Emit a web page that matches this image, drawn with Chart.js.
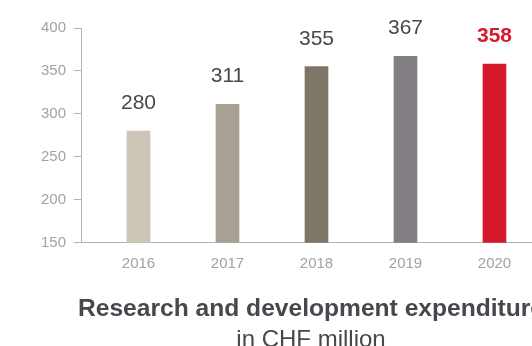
<!DOCTYPE html>
<html>
<head>
<meta charset="utf-8">
<script src="https://cdn.jsdelivr.net/npm/chart.js@4"></script>
<style>
  html, body { margin: 0; padding: 0; background: #fff; overflow: hidden; }
  #wrap { width: 532px; height: 346px; overflow: hidden; }
</style>
</head>
<body>
<div id="wrap"><canvas id="rdChart" width="622" height="360"></canvas></div>
<script>
const YEARS = [2016, 2017, 2018, 2019, 2020];
const VALUES = [280, 311, 355, 367, 358];
const BAR_COLORS = ['#cdc5b5', '#a9a094', '#7f7566', '#837e83', '#d7192d'];
const Y_TICKS = [150, 200, 250, 300, 350, 400];
const TITLE = 'Research and development expenditure';
const SUBTITLE = 'in CHF million';

const FONT = '"Liberation Sans", Arial, Helvetica, sans-serif';
const AXIS_GREY = '#b4b4b4';
const TICK_GREY = '#a2a2a2';
const TEXT_DARK = '#48474e';

// value on top of each bar, last one bold red
const valueLabels = {
  id: 'valueLabels',
  afterDatasetsDraw(chart) {
    const ctx = chart.ctx;
    const meta = chart.getDatasetMeta(0);
    ctx.save();
    ctx.textAlign = 'center';
    ctx.textBaseline = 'alphabetic';
    meta.data.forEach((bar, i) => {
      const last = i === VALUES.length - 1;
      ctx.font = (last ? 'bold ' : '') + '21px ' + FONT;
      ctx.fillStyle = last ? '#d7192d' : TEXT_DARK;
      ctx.fillText(String(VALUES[i]), bar.x, bar.y - 22);
    });
    ctx.restore();
  }
};

new Chart(document.getElementById('rdChart'), {
  type: 'bar',
  data: {
    datasets: [{
      data: YEARS.map((yr, i) => ({ x: yr, y: VALUES[i] })),
      backgroundColor: BAR_COLORS,
      barThickness: 23
    }]
  },
  options: {
    responsive: false,
    animation: false,
    layout: { padding: { top: 28, left: 0, right: 0, bottom: 5 } },
    plugins: {
      legend: { display: false },
      tooltip: { enabled: false },
      title: {
        display: true,
        position: 'bottom',
        weight: 1000,
        text: TITLE,
        color: TEXT_DARK,
        font: { family: FONT, size: 24.6, weight: 'bold' },
        padding: { top: 18, bottom: 0 }
      },
      subtitle: {
        display: true,
        position: 'bottom',
        weight: 2000,
        text: SUBTITLE,
        color: TEXT_DARK,
        font: { family: FONT, size: 24, weight: 'normal' },
        padding: { top: 2, bottom: 0 }
      }
    },
    scales: {
      x: {
        type: 'linear',
        offset: false,
        min: 2015.354,
        max: 2021.433,
        afterBuildTicks: s => { s.ticks = YEARS.map(v => ({ value: v })); },
        grid: { display: false, offset: false },
        border: { display: true, color: AXIS_GREY, width: 1 },
        ticks: {
          color: TICK_GREY,
          font: { family: FONT, size: 15 },
          padding: 4,
          callback: v => String(v)
        }
      },
      y: {
        min: 150,
        max: 400,
        afterBuildTicks: s => { s.ticks = Y_TICKS.map(v => ({ value: v })); },
        afterFit: s => { s.width = 81; },
        grid: { drawOnChartArea: false, drawTicks: true, tickLength: 7, color: AXIS_GREY },
        border: { display: true, color: AXIS_GREY, width: 1 },
        ticks: {
          color: TICK_GREY,
          font: { family: FONT, size: 15 },
          padding: 8
        }
      }
    }
  },
  plugins: [valueLabels]
});
</script>
</body>
</html>
